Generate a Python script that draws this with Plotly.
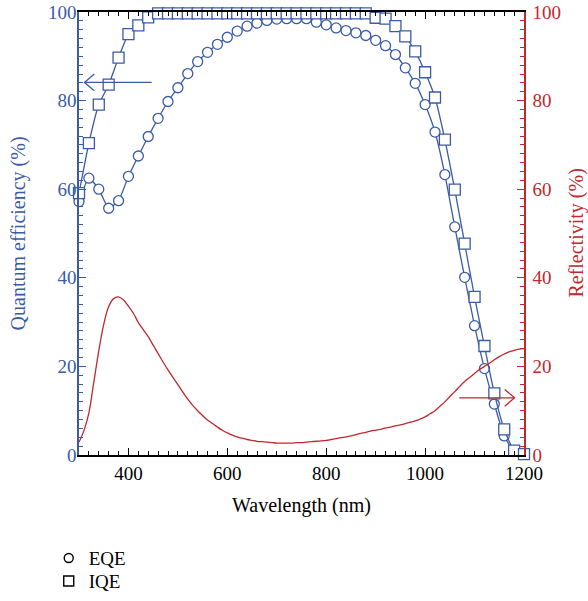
import plotly.graph_objects as go

wavelength_qe = [300, 320, 340, 360, 380, 400, 420, 440, 460, 480, 500, 520, 540, 560, 580,
                 600, 620, 640, 660, 680, 700, 720, 740, 760, 780, 800, 820, 840, 860, 880,
                 900, 920, 940, 960, 980, 1000, 1020, 1040, 1060, 1080, 1100, 1120, 1140,
                 1160, 1180, 1200]
eqe = [57.2, 62.5, 60.0, 55.7, 57.4, 62.9, 67.5, 71.9, 76.0, 79.8, 82.9, 86.1, 88.8, 90.9,
       92.7, 94.3, 95.7, 96.8, 97.5, 98.1, 98.4, 98.5, 98.5, 98.5, 97.7, 97.1, 96.4, 95.8,
       95.3, 94.7, 93.6, 92.4, 90.4, 87.4, 83.9, 79.1, 72.9, 63.3, 51.5, 40.1, 29.2, 19.5,
       11.5, 4.3, 0.8, 0.2]
iqe = [59.1, 70.4, 79.1, 83.6, 89.7, 95.0, 97.0, 98.8, 99.7, 99.7, 99.7, 99.7, 99.7, 99.7,
       99.7, 99.7, 99.7, 99.7, 99.7, 99.7, 99.7, 99.7, 99.7, 99.7, 99.7, 99.7, 99.7, 99.7,
       99.7, 99.7, 98.7, 98.5, 96.8, 94.5, 91.1, 86.4, 80.7, 71.2, 59.9, 47.7, 35.7, 24.6,
       13.9, 5.8, 1.0, 0.2]

wavelength_r = [300, 310, 320, 330, 340, 350, 360, 370, 380, 390, 400, 410, 420, 430, 440,
                450, 460, 470, 480, 490, 500, 510, 520, 530, 540, 550, 560, 570, 580, 590,
                600, 610, 620, 630, 640, 650, 660, 670, 680, 690, 700, 710, 720, 730, 740,
                750, 760, 770, 780, 790, 800, 810, 820, 830, 840, 850, 860, 870, 880, 890,
                900, 910, 920, 930, 940, 950, 960, 970, 980, 990, 1000, 1010, 1020, 1030,
                1040, 1050, 1060, 1070, 1080, 1090, 1100, 1110, 1120, 1130, 1140, 1150,
                1160, 1170, 1180, 1190, 1200]
reflectivity = [2.9, 5.5, 9.5, 16.5, 23.5, 29.5, 33.5, 35.3, 35.7, 35.0, 33.6, 32.0, 29.9,
                28.3, 26.7, 24.8, 22.9, 21.0, 19.2, 17.5, 15.9, 14.2, 12.6, 11.2, 10.0, 8.9,
                7.9, 7.1, 6.3, 5.6, 5.0, 4.5, 4.1, 3.8, 3.5, 3.3, 3.1, 3.0, 2.9, 2.8, 2.7,
                2.7, 2.7, 2.7, 2.8, 2.8, 2.9, 3.0, 3.1, 3.2, 3.3, 3.5, 3.7, 3.9, 4.1, 4.3,
                4.6, 4.9, 5.1, 5.4, 5.6, 5.8, 6.1, 6.3, 6.6, 6.8, 7.1, 7.4, 7.7, 8.1, 8.6,
                9.3, 10.0, 11.0, 12.0, 13.2, 14.3, 15.5, 16.6, 17.5, 18.4, 19.3, 20.0, 20.7,
                21.5, 22.2, 22.8, 23.3, 23.6, 23.9, 24.0]

BLUE = "#3a5ba8"
RED = "#c1272d"
FONT = "Liberation Serif"
TICK_SIZE = 19
TITLE_SIZE = 20

fig = go.Figure()

fig.add_trace(go.Scatter(x=wavelength_r, y=reflectivity, mode="lines", yaxis="y2",
                         line=dict(color=RED, width=1.3, shape="spline"),
                         showlegend=False, cliponaxis=False))
fig.add_trace(go.Scatter(x=wavelength_qe, y=eqe, mode="lines+markers",
                         line=dict(color=BLUE, width=1.3, shape="spline", smoothing=0.5),
                         marker=dict(symbol="circle", size=10, color="white",
                                     line=dict(color=BLUE, width=1.3)),
                         showlegend=False, cliponaxis=False))
fig.add_trace(go.Scatter(x=wavelength_qe, y=iqe, mode="lines+markers",
                         line=dict(color=BLUE, width=1.3, shape="spline", smoothing=0.5),
                         marker=dict(symbol="square", size=11, color="white",
                                     line=dict(color=BLUE, width=1.3)),
                         showlegend=False, cliponaxis=False))

# legend-only entries (black open markers), each in its own legend for tight spacing
fig.add_trace(go.Scatter(x=[None], y=[None], mode="markers", name="EQE", legend="legend",
                         marker=dict(symbol="circle-open", size=9, color="black",
                                     line=dict(width=1.4))))
fig.add_trace(go.Scatter(x=[None], y=[None], mode="markers", name="IQE", legend="legend2",
                         marker=dict(symbol="square-open", size=10, color="black",
                                     line=dict(width=1.4))))

# arrows
fig.add_annotation(x=311, y=84.1, ax=450, ay=84.1, xref="x", yref="y", axref="x", ayref="y",
                   showarrow=True, arrowhead=0, arrowwidth=1.3, arrowcolor=BLUE, text="")
fig.add_shape(type="path", path="M 331,86.0 L 311,84.1 L 331,82.2",
              xref="x", yref="y", line=dict(color=BLUE, width=1.3))
fig.add_annotation(x=1181, y=12.9, ax=1066, ay=12.9, xref="x", yref="y2", axref="x", ayref="y2",
                   showarrow=True, arrowhead=0, arrowwidth=1.3, arrowcolor=RED, text="")
fig.add_shape(type="path", path="M 1161,14.8 L 1181,12.9 L 1161,11.0",
              xref="x", yref="y2", line=dict(color=RED, width=1.3))

# axis titles as annotations (precise placement)
fig.add_annotation(text="Quantum efficiency (%)", xref="paper", yref="paper",
                   x=-0.135, y=0.5, xanchor="center", yanchor="middle", textangle=-90,
                   showarrow=False, font=dict(family=FONT, size=TITLE_SIZE, color=BLUE))
fig.add_annotation(text="Reflectivity (%)", xref="paper", yref="paper",
                   x=1.117, y=0.5, xanchor="center", yanchor="middle", textangle=-90,
                   showarrow=False, font=dict(family=FONT, size=TITLE_SIZE, color=RED))
fig.add_annotation(text="Wavelength (nm)", xref="paper", yref="paper",
                   x=0.5, y=-0.113, xanchor="center", yanchor="middle",
                   showarrow=False, font=dict(family=FONT, size=TITLE_SIZE, color="black"))

legend_common = dict(xanchor="left", yanchor="top",
                     font=dict(family=FONT, size=19, color="black"),
                     bgcolor="rgba(0,0,0,0)", itemwidth=30)

fig.update_layout(
    width=588, height=601,
    margin=dict(l=78.5, r=63.7, t=11.5, b=146, autoexpand=False),
    paper_bgcolor="white", plot_bgcolor="white",
    font=dict(family=FONT, size=TICK_SIZE, color="black"),
    showlegend=True,
    legend=dict(x=-0.068, y=-0.19, **legend_common),
    legend2=dict(x=-0.068, y=-0.242, **legend_common),
    xaxis=dict(range=[300, 1200], tick0=400, dtick=200, ticks="inside", ticklen=7,
               tickwidth=1.2, tickcolor="black", showline=True, linecolor="black",
               linewidth=1.5, mirror="ticks", showgrid=False, zeroline=False,
               automargin=False,
               tickfont=dict(family=FONT, size=TICK_SIZE, color="black"),
               minor=dict(dtick=20, ticks="inside", ticklen=4, tickcolor="black", tickwidth=1)),
    yaxis=dict(range=[0, 100], dtick=20, ticks="inside", ticklen=7, tickwidth=1.2,
               tickcolor=BLUE, showline=True, linecolor=BLUE, linewidth=1.5,
               showgrid=False, zeroline=False, automargin=False, ticklabelstandoff=-3,
               tickfont=dict(family=FONT, size=TICK_SIZE, color=BLUE),
               minor=dict(dtick=2, ticks="inside", ticklen=4, tickcolor=BLUE, tickwidth=1)),
    yaxis2=dict(range=[0, 100], dtick=20, overlaying="y", side="right", ticks="inside",
                ticklen=7, tickwidth=1.2, tickcolor=RED, showline=True, linecolor=RED,
                linewidth=1.5, showgrid=False, zeroline=False, automargin=False,
                ticklabelstandoff=3,
                tickfont=dict(family=FONT, size=TICK_SIZE, color=RED),
                minor=dict(dtick=2, ticks="inside", ticklen=4, tickcolor=RED, tickwidth=1)),
)

fig.write_html("out.html", config={"displayModeBar": False},
               post_script="document.body.style.margin='0';")
